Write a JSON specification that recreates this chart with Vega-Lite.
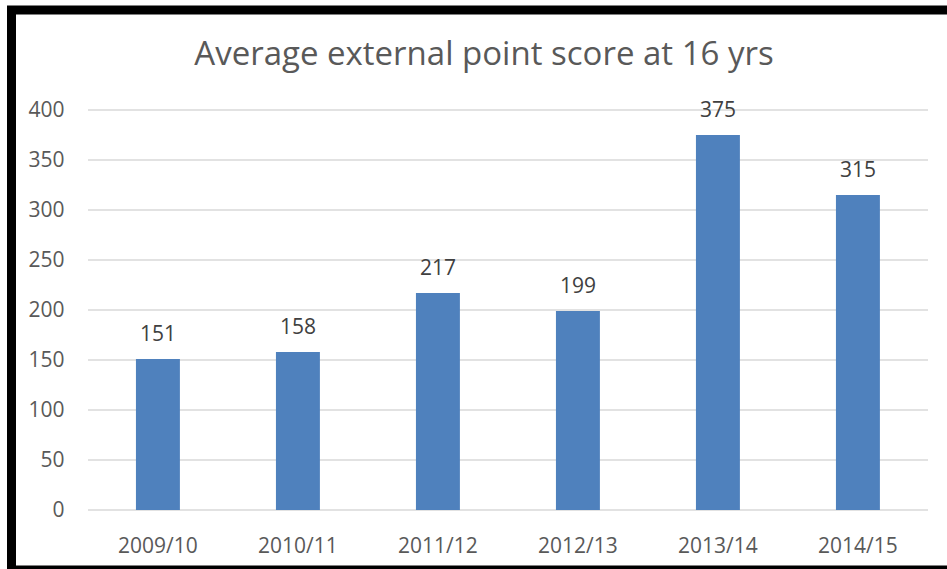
{
  "$schema": "https://vega.github.io/schema/vega-lite/v6.json",
  "width": 945,
  "height": 560,
  "autosize": {"type": "none"},
  "padding": {"left": 11.5, "top": 10, "right": -9.5, "bottom": -1},
  "background": "white",
  "title": {
    "text": "Average external point score at 16 yrs",
    "font": "Open Sans",
    "fontSize": 33,
    "fontWeight": "normal",
    "color": "#595959",
    "anchor": "middle",
    "baseline": "alphabetic",
    "offset": -88
  },
  "config": {
    "view": {"stroke": "black", "strokeWidth": 9, "fill": "white"}
  },
  "datasets": {
    "scores": [
      {"year": "2009/10", "score": 151},
      {"year": "2010/11", "score": 158},
      {"year": "2011/12", "score": 217},
      {"year": "2012/13", "score": 199},
      {"year": "2013/14", "score": 375},
      {"year": "2014/15", "score": 315}
    ],
    "grid": [
      {"g": 0}, {"g": 50}, {"g": 100}, {"g": 150}, {"g": 200},
      {"g": 250}, {"g": 300}, {"g": 350}, {"g": 400}
    ]
  },
  "layer": [
    {
      "data": {"name": "grid"},
      "mark": {"type": "rule", "color": "#d9d9d9", "strokeWidth": 1.4},
      "encoding": {
        "y": {
          "field": "g",
          "type": "quantitative",
          "scale": {"domain": [-60, 500], "nice": false, "zero": false},
          "axis": {
            "values": [0, 50, 100, 150, 200, 250, 300, 350, 400],
            "grid": false,
            "domain": false,
            "ticks": false,
            "tickSize": 0,
            "labelPadding": -52.5,
            "labelFont": "Open Sans",
            "labelFontSize": 21,
            "labelColor": "#595959",
            "title": null
          }
        },
        "x": {
          "datum": 0,
          "type": "quantitative",
          "scale": {"domain": [-0.091071, 1.033929], "nice": false, "zero": false},
          "axis": null
        },
        "x2": {"datum": 1}
      }
    },
    {
      "data": {"name": "scores"},
      "encoding": {
        "x": {
          "field": "year",
          "type": "nominal",
          "sort": null,
          "scale": {"paddingInner": 0.686, "paddingOuter": 0.718, "align": 0.619},
          "axis": {
            "orient": "bottom",
            "domain": false,
            "ticks": false,
            "tickSize": 0,
            "labelPadding": -18,
            "labelBaseline": "alphabetic",
            "labelAngle": 0,
            "labelFont": "Open Sans",
            "labelFontSize": 21,
            "labelColor": "#595959",
            "title": null
          }
        },
        "y": {
          "field": "score",
          "type": "quantitative",
          "scale": {"domain": [-60, 500], "nice": false, "zero": false},
          "axis": {
            "values": [0, 50, 100, 150, 200, 250, 300, 350, 400],
            "grid": false,
            "domain": false,
            "ticks": false,
            "tickSize": 0,
            "labelPadding": -52.5,
            "labelFont": "Open Sans",
            "labelFontSize": 21,
            "labelColor": "#595959",
            "title": null
          }
        }
      },
      "layer": [
        {"mark": {"type": "bar", "color": "#4f81bd"}},
        {
          "mark": {
            "type": "text",
            "baseline": "alphabetic",
            "dy": -18,
            "font": "Open Sans",
            "fontSize": 21,
            "color": "#404040"
          },
          "encoding": {"text": {"field": "score", "type": "quantitative"}}
        }
      ]
    }
  ],
  "resolve": {"scale": {"x": "independent"}}
}
